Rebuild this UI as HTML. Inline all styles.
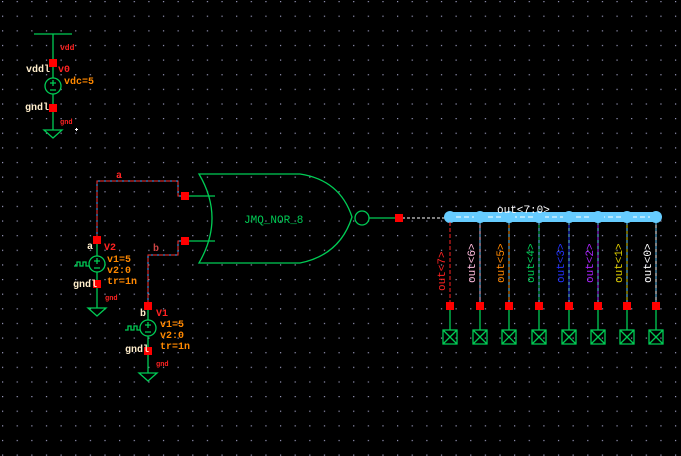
<!DOCTYPE html><html><head><style>body{margin:0;background:#000}svg{display:block}text{font-family:"Liberation Mono",monospace}</style></head><body>
<svg width="681" height="456" xmlns="http://www.w3.org/2000/svg">
<defs><pattern id="g" width="14.63" height="14.63" patternUnits="userSpaceOnUse" x="2" y="1"><rect x="0" y="0" width="1.2" height="1.2" fill="#9999bb"/></pattern></defs>
<rect width="681" height="456" fill="#000"/>
<rect width="681" height="456" fill="url(#g)"/>
<g fill="#fff"><rect x="75" y="129" width="3" height="1"/><rect x="76" y="128" width="1" height="3"/></g>
<g stroke="#00cc55" stroke-width="1.3" fill="none">
<line x1="34" y1="34" x2="72" y2="34"/><line x1="53" y1="34" x2="53" y2="130"/>
<circle cx="53" cy="86" r="8" fill="#000"/><path d="M44 130h18l-9 8z"/>
<path d="M50 83h6M53 80v6M50 90h6"/>
<line x1="97" y1="240" x2="97" y2="308"/><circle cx="97" cy="264" r="8" fill="#000"/><path d="M88 308h18l-9 8z"/>
<path d="M94 261h6M97 258v6M94 268h6"/>
<path d="M74 266h3v-4h3v4h3v-4h3v4h3"/>
<line x1="148" y1="306" x2="148" y2="373"/><circle cx="148" cy="328" r="8" fill="#000"/><path d="M139 373h18l-9 8z"/>
<path d="M145 325h6M148 322v6M145 332h6"/>
<path d="M125 330h3v-4h3v4h3v-4h3v4h3"/>
<path d="M199 174H300Q340 180 352 217Q340 255 300 263H199Q225 218 199 174Z"/>
<line x1="185" y1="196" x2="215" y2="196"/><line x1="185" y1="241" x2="215" y2="241"/>
<circle cx="362" cy="218" r="7"/><line x1="369" y1="218" x2="398" y2="218"/>
<line x1="450" y1="306" x2="450" y2="330"/><line x1="480" y1="306" x2="480" y2="330"/><line x1="509" y1="306" x2="509" y2="330"/><line x1="539" y1="306" x2="539" y2="330"/><line x1="569" y1="306" x2="569" y2="330"/><line x1="598" y1="306" x2="598" y2="330"/><line x1="627" y1="306" x2="627" y2="330"/><line x1="656" y1="306" x2="656" y2="330"/>
<path d="M443 330h14v14h-14zM443 330l14 14M457 330l-14 14"/>
<path d="M473 330h14v14h-14zM473 330l14 14M487 330l-14 14"/>
<path d="M502 330h14v14h-14zM502 330l14 14M516 330l-14 14"/>
<path d="M532 330h14v14h-14zM532 330l14 14M546 330l-14 14"/>
<path d="M562 330h14v14h-14zM562 330l14 14M576 330l-14 14"/>
<path d="M591 330h14v14h-14zM591 330l14 14M605 330l-14 14"/>
<path d="M620 330h14v14h-14zM620 330l14 14M634 330l-14 14"/>
<path d="M649 330h14v14h-14zM649 330l14 14M663 330l-14 14"/>
</g>
<g fill="none" stroke-width="1">
<path d="M97 240V181H178V196H185" stroke="#ff3333"/><path d="M97 240V181H178V196H185" stroke="#55aaff" stroke-dasharray="2 4"/>
<path d="M148 306V255H178V241H185" stroke="#ff3333"/><path d="M148 306V255H178V241H185" stroke="#55aaff" stroke-dasharray="2 4"/>
<path d="M402 218H450" stroke="#fff" stroke-dasharray="3 2"/>
</g>
<rect x="445" y="212" width="215" height="10" rx="5" fill="#66ccff"/>
<line x1="448" y1="217" x2="658" y2="217" stroke="#fff" stroke-dasharray="5 3"/>
<g fill="#66ccff"><circle cx="450" cy="217" r="6"/><circle cx="480" cy="217" r="6"/><circle cx="509" cy="217" r="6"/><circle cx="539" cy="217" r="6"/><circle cx="569" cy="217" r="6"/><circle cx="598" cy="217" r="6"/><circle cx="627" cy="217" r="6"/><circle cx="656" cy="217" r="6"/></g>
<g stroke-width="1">
<line x1="450" y1="222" x2="450" y2="306" stroke="#ff2222" stroke-dasharray="4 2"/>
<line x1="480" y1="222" x2="480" y2="306" stroke="#ffbbdd"/><line x1="480" y1="222" x2="480" y2="306" stroke="#66ccff" stroke-dasharray="3 3"/>
<line x1="509" y1="222" x2="509" y2="306" stroke="#ff8800"/><line x1="509" y1="222" x2="509" y2="306" stroke="#66ccff" stroke-dasharray="3 3"/>
<line x1="539" y1="222" x2="539" y2="306" stroke="#00cc55"/><line x1="539" y1="222" x2="539" y2="306" stroke="#66ccff" stroke-dasharray="3 3"/>
<line x1="569" y1="222" x2="569" y2="306" stroke="#2233ff"/><line x1="569" y1="222" x2="569" y2="306" stroke="#66ccff" stroke-dasharray="3 3"/>
<line x1="598" y1="222" x2="598" y2="306" stroke="#aa22ff"/><line x1="598" y1="222" x2="598" y2="306" stroke="#66ccff" stroke-dasharray="3 3"/>
<line x1="627" y1="222" x2="627" y2="306" stroke="#ddcc00"/><line x1="627" y1="222" x2="627" y2="306" stroke="#66ccff" stroke-dasharray="3 3"/>
<line x1="656" y1="222" x2="656" y2="306" stroke="#fff"/><line x1="656" y1="222" x2="656" y2="306" stroke="#66ccff" stroke-dasharray="3 3"/>
</g>
<g fill="#ff0000">
<rect x="49" y="59" width="8" height="8"/><rect x="49" y="104" width="8" height="8"/>
<rect x="93" y="236" width="8" height="8"/><rect x="93" y="280" width="8" height="8"/>
<rect x="144" y="302" width="8" height="8"/><rect x="144" y="347" width="8" height="8"/>
<rect x="181" y="192" width="8" height="8"/><rect x="181" y="237" width="8" height="8"/>
<rect x="395" y="214" width="8" height="8"/>
<rect x="446" y="302" width="8" height="8"/><rect x="476" y="302" width="8" height="8"/><rect x="505" y="302" width="8" height="8"/><rect x="535" y="302" width="8" height="8"/><rect x="565" y="302" width="8" height="8"/><rect x="594" y="302" width="8" height="8"/><rect x="623" y="302" width="8" height="8"/><rect x="652" y="302" width="8" height="8"/>
</g>
<g font-size="10" font-weight="bold" font-family="Liberation Sans,sans-serif">
<text x="60" y="50" fill="#ff2222" font-size="8">vdd</text>
<text x="26" y="72" fill="#ffeecc">vddl</text><text x="58" y="72" fill="#ff2222">v0</text>
<text x="64" y="84" fill="#ff8800">vdc=5</text>
<text x="25" y="110" fill="#ffeecc">gndl</text><text x="60" y="124" fill="#ff2222" font-size="7">gnd</text>
<text x="116" y="178" fill="#ff2222">a</text>
<text x="87" y="249" fill="#ffeecc">a</text><text x="104" y="250" fill="#ff2222">V2</text>
<text x="107" y="262" fill="#ff8800">v1=5</text><text x="107" y="273" fill="#ff8800">v2:0</text><text x="107" y="284" fill="#ff8800">tr=1n</text>
<text x="73" y="287" fill="#ffeecc">gndl</text><text x="105" y="300" fill="#ff2222" font-size="7">gnd</text>
<text x="153" y="251" fill="#cc4444">b</text>
<text x="140" y="316" fill="#ffeecc">b</text><text x="156" y="316" fill="#ff2222">V1</text>
<text x="160" y="327" fill="#ff8800">v1=5</text><text x="160" y="338" fill="#ff8800">v2:0</text><text x="160" y="349" fill="#ff8800">tr=1n</text>
<text x="125" y="352" fill="#ffeecc">gndl</text><text x="156" y="366" fill="#ff2222" font-size="7">gnd</text>
<text x="244" y="223" fill="#00cc55" font-size="11" font-weight="normal">JMQ_NOR_8</text>
<text x="497" y="213" fill="#fff" font-size="11" font-weight="normal">out&lt;7:0&gt;</text>
<g font-size="11" font-weight="normal">
<text transform="translate(445,291) rotate(-90)" fill="#ff2222">out&lt;7&gt;</text>
<text transform="translate(475,283) rotate(-90)" fill="#ffbbdd">out&lt;6&gt;</text>
<text transform="translate(504,283) rotate(-90)" fill="#ff8800">out&lt;5&gt;</text>
<text transform="translate(534,283) rotate(-90)" fill="#00cc55">out&lt;4&gt;</text>
<text transform="translate(564,283) rotate(-90)" fill="#2233ff">out&lt;3&gt;</text>
<text transform="translate(593,283) rotate(-90)" fill="#aa22ff">out&lt;2&gt;</text>
<text transform="translate(622,283) rotate(-90)" fill="#ddcc00">out&lt;1&gt;</text>
<text transform="translate(651,283) rotate(-90)" fill="#fff">out&lt;0&gt;</text>
</g>
</g>
</svg>
</body></html>
